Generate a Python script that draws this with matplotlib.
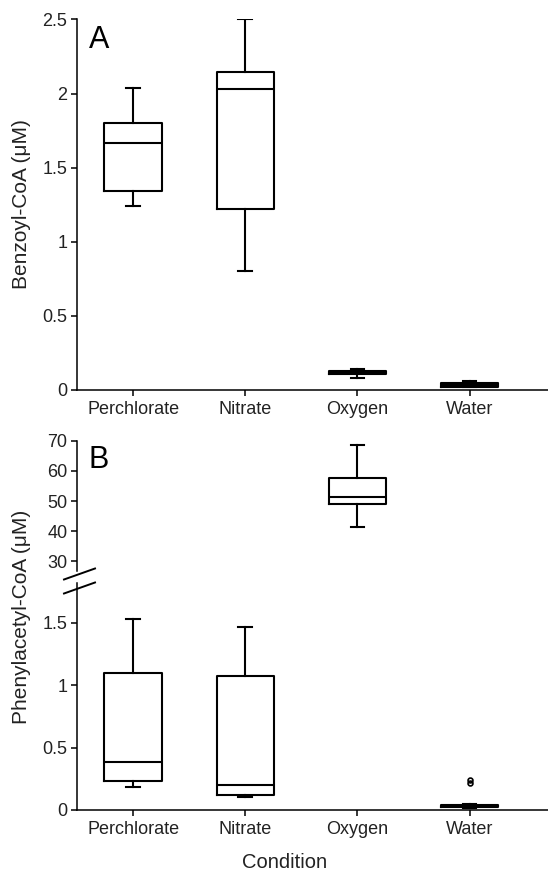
import matplotlib
matplotlib.use('Agg')
import matplotlib.pyplot as plt
from matplotlib.lines import Line2D

plt.rcParams['font.family'] = ['Liberation Sans', 'DejaVu Sans']

# Data
conditions = ['Perchlorate', 'Nitrate', 'Oxygen', 'Water']

# Panel A: Benzoyl-CoA (uM)
a_whislo = [1.24, 0.80, 0.08, 0.02]
a_q1 = [1.34, 1.22, 0.105, 0.022]
a_med = [1.67, 2.03, 0.12, 0.035]
a_q3 = [1.80, 2.145, 0.13, 0.045]
a_whishi = [2.04, 2.50, 0.145, 0.058]

# Panel B: Phenylacetyl-CoA (uM)
b_whislo = [0.187, 0.107, 41.3, 0.02]
b_q1 = [0.232, 0.12, 49.0, 0.022]
b_med = [0.387, 0.197, 51.2, 0.03]
b_q3 = [1.094, 1.076, 57.5, 0.042]
b_whishi = [1.529, 1.465, 68.7, 0.045]
b_fliers = [[], [], [], [0.214, 0.238]]


def make_stats(lo, q1, med, q3, hi, fl=None):
    stats = []
    for i in range(len(lo)):
        stats.append(dict(whislo=lo[i], q1=q1[i], med=med[i], q3=q3[i],
                          whishi=hi[i], fliers=fl[i] if fl else []))
    return stats


W, H = 548, 873
fig = plt.figure(figsize=(W / 100, H / 100), dpi=100)

lw = 1.5
box_kw = dict(widths=0.51, capwidths=0.12, showfliers=True,
              boxprops=dict(linewidth=lw, color='black'),
              medianprops=dict(linewidth=lw, color='black'),
              whiskerprops=dict(linewidth=lw, color='black'),
              capprops=dict(linewidth=lw, color='black'),
              flierprops=dict(marker='o', markersize=3.5, markerfacecolor='none',
                              markeredgecolor='black', markeredgewidth=1.2))


def fpos(x0, y0, x1, y1):
    return [x0 / W, 1 - y1 / H, (x1 - x0) / W, (y1 - y0) / H]


def style(ax, bottom=True):
    for s in ['top', 'right']:
        ax.spines[s].set_visible(False)
    ax.spines['left'].set_linewidth(1.1)
    ax.spines['bottom'].set_linewidth(1.1)
    ax.tick_params(direction='out', length=4, width=1.1, labelsize=13, pad=3,
                   labelcolor='#222222')
    ax.tick_params(axis='x', pad=4)
    ax.set_xlim(0.5, 4.7)
    if not bottom:
        ax.spines['bottom'].set_visible(False)
        ax.tick_params(axis='x', bottom=False, labelbottom=False)


# Panel A
axA = fig.add_axes(fpos(77, 19.5, 548, 390))
axA.bxp(make_stats(a_whislo, a_q1, a_med, a_q3, a_whishi), **box_kw)
axA.set_ylim(0, 2.5)
axA.set_yticks([0, 0.5, 1, 1.5, 2, 2.5])
axA.set_yticklabels(['0', '0.5', '1', '1.5', '2', '2.5'])
axA.set_xticks([1, 2, 3, 4])
axA.set_xticklabels(conditions)
style(axA)
axA.text(0.025, 0.985, 'A', transform=axA.transAxes, fontsize=22, va='top', ha='left')

# Panel B, upper part
statsB = make_stats(b_whislo, b_q1, b_med, b_q3, b_whishi, b_fliers)
axB1 = fig.add_axes(fpos(77, 440.7, 548, 571))
axB1.bxp(statsB, **box_kw)
axB1.set_ylim(26.8, 70)
axB1.set_yticks([30, 40, 50, 60, 70])
style(axB1, bottom=False)
axB1.set_xlim(0.5, 4.7)
axB1.text(0.025, 0.97, 'B', transform=axB1.transAxes, fontsize=22, va='top', ha='left')

# Panel B, lower part
axB2 = fig.add_axes(fpos(77, 583, 548, 810))
axB2.bxp(statsB, **box_kw)
axB2.set_ylim(0, 1.817)
axB2.set_yticks([0, 0.5, 1, 1.5])
axB2.set_yticklabels(['0', '0.5', '1', '1.5'])
axB2.set_xticks([1, 2, 3, 4])
axB2.set_xticklabels(conditions)
style(axB2)

# axis break marks
for (x0, y0, x1, y1) in [(64, 579.5, 95, 568.5), (64, 593.5, 95, 582.5)]:
    fig.add_artist(Line2D([x0 / W, x1 / W], [1 - y0 / H, 1 - y1 / H],
                          color='black', linewidth=1.4))

fig.text(22 / W, 1 - 204 / H, 'Benzoyl-CoA (\u03bcM)', rotation=90,
         ha='center', va='center', fontsize=15, color='#222222')
fig.text(22 / W, 1 - 617 / H, 'Phenylacetyl-CoA (\u03bcM)', rotation=90,
         ha='center', va='center', fontsize=15, color='#222222')
fig.text(285 / W, 1 - 863 / H, 'Condition', ha='center', va='center',
         fontsize=14.5, color='#222222')

fig.savefig('out.png', dpi=100)
